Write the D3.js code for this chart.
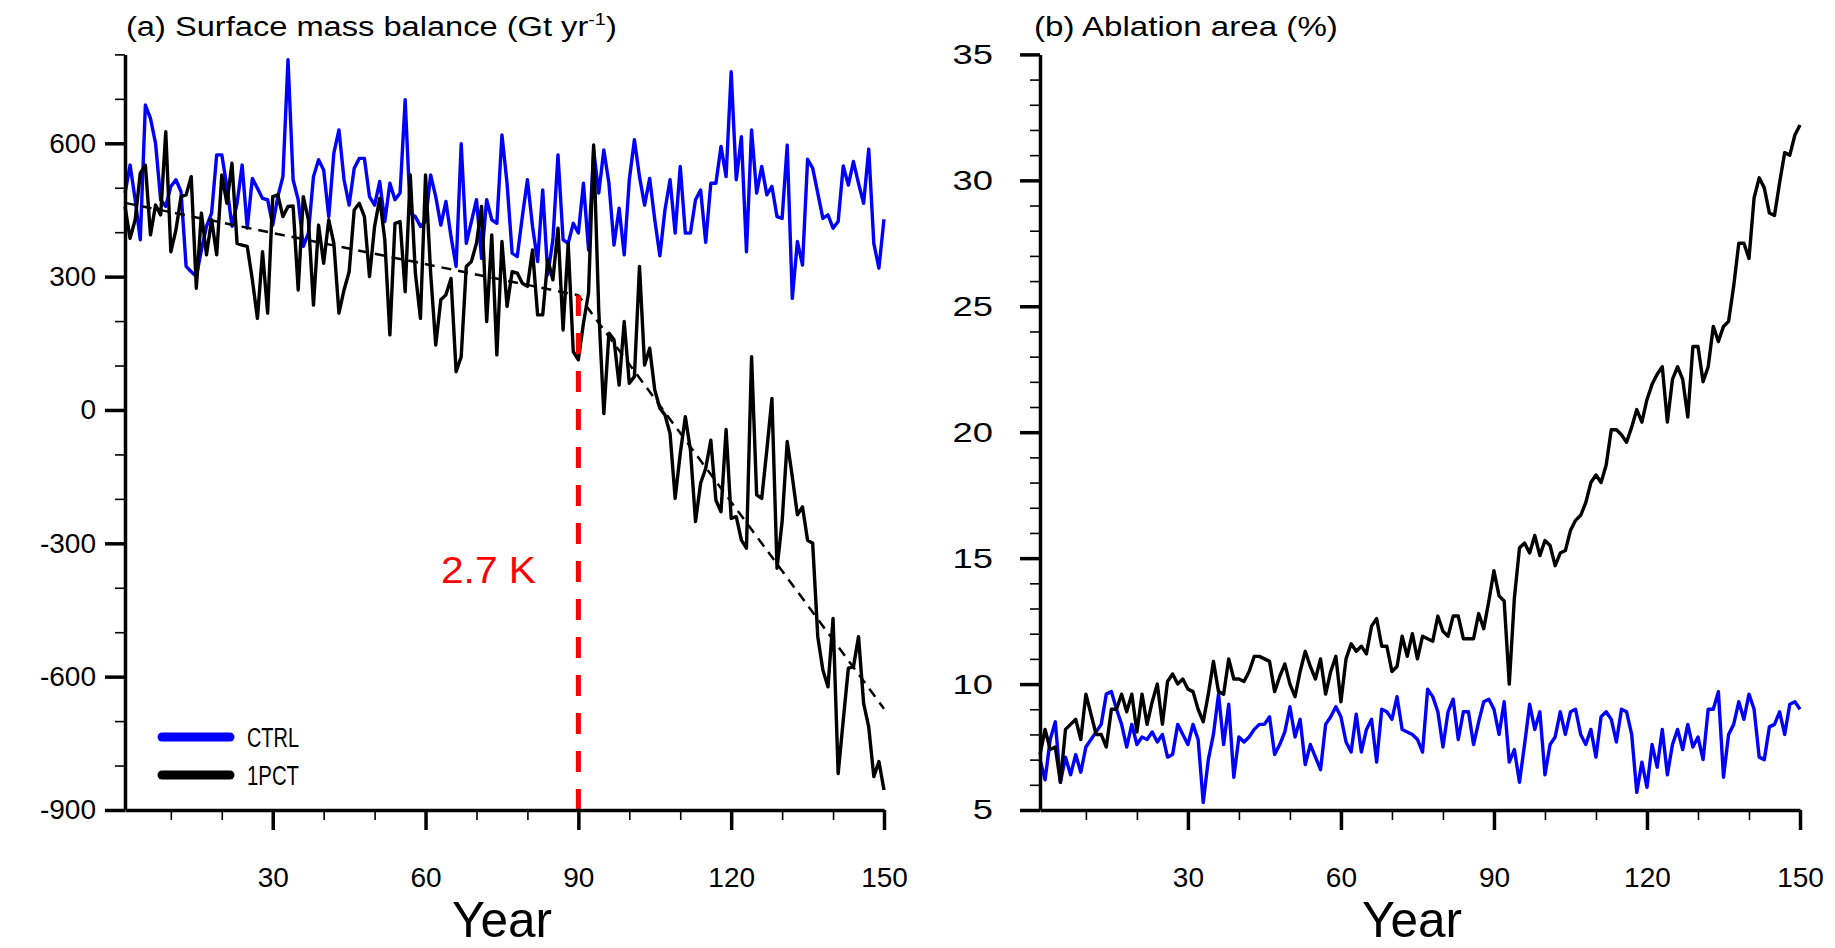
<!DOCTYPE html>
<html>
<head>
<meta charset="utf-8">
<script src="https://cdn.jsdelivr.net/npm/d3@7"></script>
<style>
body { margin: 0; background: #fff; }
svg text { font-family: "Liberation Sans", Arial, sans-serif; fill: #000; }
</style>
</head>
<body>
<div id="chart"></div>
<script>
var years = d3.range(1, 151);

// (a) surface mass balance, Gt/yr
var smbCtrl = [488, 551, 473, 383, 686, 656, 600, 473, 458, 503,
               518, 491, 323, 311, 300, 360, 413, 443, 574, 574,
               503, 413, 465, 551, 409, 521, 499, 476, 473, 416,
               480, 525, 788, 518, 473, 368, 398, 525, 563, 540,
               435, 578, 630, 518, 461, 544, 566, 566, 480, 461,
               514, 424, 510, 473, 488, 698, 443, 435, 413, 424,
               529, 480, 416, 469, 390, 323, 599, 375, 424, 473,
               341, 473, 428, 420, 619, 510, 353, 345, 435, 518,
               413, 334, 495, 304, 383, 574, 383, 375, 420, 398,
               510, 360, 585, 488, 585, 510, 371, 454, 349, 518,
               608, 525, 461, 521, 428, 347, 450, 518, 398, 548,
               398, 398, 473, 495, 377, 510, 510, 593, 525, 761,
               518, 615, 356, 630, 488, 548, 484, 503, 435, 431,
               596, 251, 379, 326, 564, 544, 488, 431, 439, 409,
               424, 549, 506, 559, 510, 465, 587, 375, 319, 429];
var smb1pct = [458, 386, 428, 533, 551, 394, 461, 439, 626, 356,
               405, 480, 484, 525, 274, 443, 349, 428, 349, 529,
               465, 555, 375, 371, 368, 293, 206, 356, 218, 480,
               484, 435, 458, 459, 270, 480, 428, 236, 416, 330,
               428, 375, 218, 270, 311, 450, 465, 435, 300, 413,
               476, 383, 169, 420, 424, 266, 529, 308, 206, 529,
               308, 146, 248, 259, 296, 86, 120, 323, 334, 375,
               458, 199, 394, 124, 379, 233, 311, 308, 285, 278,
               360, 214, 214, 338, 293, 409, 180, 375, 131, 113,
               195, 263, 596, 225, -8, 173, 158, 56, 199, 60,
               75, 323, 101, 139, 45, 4, -11, -53, -199, -98,
               -15, -90, -251, -165, -131, -68, -203, -229, -44, -244,
               -240, -293, -311, 120, -191, -199, -90, 26, -356, -251,
               -71, -150, -236, -218, -293, -300, -510, -585, -623, -469,
               -818, -698, -581, -578, -510, -660, -713, -825, -791, -855];
var trendYears = [1, 90, 150];
var smbTrend = [466, 258, -672];

// (b) ablation area, %
var ablCtrl = [7.0, 6.2, 7.8, 8.5, 6.1, 7.1, 6.4, 7.2, 6.5, 7.5,
               7.8, 8.1, 8.4, 9.6, 9.7, 9.0, 8.4, 7.5, 8.4, 7.6,
               7.9, 7.8, 8.1, 7.7, 8.0, 7.1, 7.2, 8.4, 8.0, 7.6,
               8.4, 7.8, 5.3, 7.0, 8.0, 9.6, 7.6, 9.2, 6.3, 7.9,
               7.7, 7.9, 8.2, 8.4, 8.4, 8.7, 7.2, 7.6, 8.1, 9.1,
               7.9, 8.6, 6.8, 7.6, 7.1, 6.6, 8.4, 8.7, 9.1, 8.7,
               7.7, 7.3, 8.8, 7.3, 8.2, 8.6, 6.9, 9.0, 8.9, 8.6,
               9.5, 8.2, 8.1, 8.0, 7.8, 7.3, 9.8, 9.5, 8.9, 7.5,
               8.9, 9.4, 7.8, 8.9, 8.9, 7.6, 8.5, 9.3, 9.4, 9.0,
               8.0, 9.3, 6.9, 7.4, 6.1, 7.6, 9.2, 8.2, 8.9, 6.4,
               7.6, 7.9, 8.9, 8.0, 8.9, 9.0, 8.0, 7.6, 8.2, 7.1,
               8.7, 8.9, 8.6, 7.7, 9.0, 8.9, 8.0, 5.7, 6.9, 5.9,
               7.6, 6.7, 8.2, 6.4, 7.6, 8.2, 7.4, 8.4, 7.5, 7.9,
               7.0, 9.0, 9.0, 9.7, 6.3, 8.0, 8.4, 9.3, 8.6, 9.6,
               9.0, 7.1, 7.0, 8.3, 8.4, 8.9, 8.0, 9.2, 9.3, 9.0];
var abl1pct = [7.2, 8.2, 7.4, 7.5, 6.1, 8.2, 8.4, 8.6, 7.8, 9.6,
               8.8, 8.0, 8.0, 7.5, 9.0, 9.0, 9.6, 8.9, 9.6, 8.1,
               9.6, 8.4, 9.3, 10.0, 8.4, 10.1, 10.4, 10.0, 10.2, 9.8,
               9.7, 9.0, 8.5, 9.6, 10.9, 9.7, 9.6, 11.0, 10.2, 10.2,
               10.1, 10.5, 11.1, 11.1, 11.0, 10.9, 9.7, 10.3, 10.8, 10.0,
               9.5, 10.5, 11.3, 10.7, 10.2, 11.0, 9.6, 10.5, 11.1, 9.3,
               11.0, 11.6, 11.3, 11.5, 11.2, 12.3, 12.6, 11.5, 11.5, 10.5,
               10.7, 11.9, 11.1, 12.0, 11.0, 11.9, 11.8, 11.7, 12.7, 12.1,
               11.9, 12.7, 12.7, 11.8, 11.8, 11.8, 12.8, 12.2, 13.3, 14.5,
               13.5, 13.3, 10.0, 13.4, 15.4, 15.6, 15.2, 15.9, 15.1, 15.7,
               15.5, 14.7, 15.2, 15.3, 16.1, 16.5, 16.7, 17.2, 18.0, 18.3,
               18.0, 18.7, 20.1, 20.1, 19.9, 19.6, 20.2, 20.9, 20.4, 21.3,
               21.9, 22.3, 22.6, 20.4, 22.1, 22.6, 22.1, 20.6, 23.4, 23.4,
               22.0, 22.6, 24.2, 23.6, 24.2, 24.4, 25.8, 27.5, 27.5, 26.9,
               29.3, 30.1, 29.7, 28.7, 28.6, 29.9, 31.1, 31.0, 31.8, 32.2];

var smbTicks = [-900, -600, -300, 0, 300, 600];
var ablTicks = [5, 10, 15, 20, 25, 30, 35];
var yearTicks = [30, 60, 90, 120, 150];
var legendNames = ['CTRL', '1PCT'];
var seriesColors = ['#0000ff', '#000000'];
var warmingYear = 90;
var warmingLabel = '2.7 K';

var svg = d3.select('#chart').append('svg')
            .attr('width', 1835)
            .attr('height', 948);

function pairs(arr) {
    return years.map(function (yr, i) { return {year: yr, value: arr[i]}; });
}

function fitText(sel, x, y, width) {
    var w = sel.node().getBBox().width;
    sel.attr('transform', 'translate(' + x + ',' + y + ') scale(' + (width / w) + ',1)');
}

function drawAxes(x, y, majorY, minorY, labelPad, labelStretch) {
    var minorX = d3.range(10, 150, 10).filter(function (d) { return d % 30 != 0; });

    var gx = svg.append('g').attr('transform', 'translate(0,810)')
                .call(d3.axisBottom(x).tickValues(yearTicks).tickSize(20)
                        .tickSizeOuter(0).tickPadding(37));
    gx.select('.domain').attr('stroke-width', 3.5);
    gx.selectAll('.tick line').attr('stroke-width', 3.5);
    gx.selectAll('.tick text').attr('font-size', 28);

    svg.append('g').attr('transform', 'translate(0,810)')
       .call(d3.axisBottom(x).tickValues(minorX).tickSize(10).tickFormat(''))
       .call(function (g) { g.select('.domain').remove(); })
       .selectAll('.tick line').attr('stroke-width', 1.6);

    var left = x.range()[0];
    var tx = -(20 + labelPad);
    var gy = svg.append('g').attr('transform', 'translate(' + left + ',0)')
                .call(d3.axisLeft(y).tickValues(majorY).tickSize(20)
                        .tickSizeOuter(0).tickPadding(labelPad)
                        .tickFormat(function (d) { return String(d); }));
    gy.select('.domain').attr('stroke-width', 3.5);
    gy.selectAll('.tick line').attr('stroke-width', 3.5);
    gy.selectAll('.tick text')
      .attr('font-size', 28)
      .attr('transform', 'translate(' + tx + ',0) scale(' + labelStretch + ',1) translate(' + (-tx) + ',0)');

    svg.append('g').attr('transform', 'translate(' + left + ',0)')
       .call(d3.axisLeft(y).tickValues(minorY).tickSize(10).tickFormat(''))
       .call(function (g) { g.select('.domain').remove(); })
       .selectAll('.tick line').attr('stroke-width', 1.6);
}

function drawSeries(x, y, arr, color) {
    var line = d3.line()
                 .x(function (d) { return x(d.year); })
                 .y(function (d) { return y(d.value); });
    svg.append('path')
       .datum(pairs(arr))
       .attr('d', line)
       .attr('fill', 'none')
       .attr('stroke', color)
       .attr('stroke-width', 3.4)
       .attr('stroke-linejoin', 'round');
}

// panel (a)
var xa = d3.scaleLinear().domain([1, 150]).range([125, 884]);
var ya = d3.scaleLinear().domain([-900, 800]).range([810, 54.4]);
var smbMinor = d3.range(-800, 900, 100).filter(function (d) { return d % 300 != 0; });

drawSeries(xa, ya, smbCtrl, seriesColors[0]);
drawSeries(xa, ya, smb1pct, seriesColors[1]);

var trendLine = d3.line()
                  .x(function (d, i) { return xa(trendYears[i]); })
                  .y(function (d) { return ya(d); });
svg.append('path')
   .datum(smbTrend)
   .attr('d', trendLine)
   .attr('fill', 'none')
   .attr('stroke', '#000')
   .attr('stroke-width', 2.5)
   .attr('stroke-dasharray', '10,7');

svg.append('line')
   .attr('x1', xa(warmingYear)).attr('x2', xa(warmingYear))
   .attr('y1', ya(-900)).attr('y2', ya(smbTrend[1]))
   .attr('stroke', '#ff0000')
   .attr('stroke-width', 5)
   .attr('stroke-dasharray', '21,17');

var warmText = svg.append('text')
                  .attr('font-family', '"Open Sans", sans-serif')
                  .attr('font-size', 36)
                  .style('fill', '#ff0000')
                  .text(warmingLabel);
fitText(warmText, 441, 583, 95);

drawAxes(xa, ya, smbTicks, smbMinor, 9, 1);

var titleA = svg.append('text').attr('font-size', 28);
titleA.append('tspan').text('(a) Surface mass balance (Gt yr');
titleA.append('tspan').attr('font-size', 17).attr('dy', -11).text('-1');
titleA.append('tspan').attr('dy', 11).text(')');
fitText(titleA, 126, 36, 491);

// legend
legendNames.forEach(function (name, i) {
    var ly = 737 + i * 38;
    svg.append('line')
       .attr('x1', 162).attr('x2', 230)
       .attr('y1', ly).attr('y2', ly)
       .attr('stroke', seriesColors[i])
       .attr('stroke-width', 9)
       .attr('stroke-linecap', 'round');
    var t = svg.append('text')
               .attr('font-size', 28)
               .text(name);
    fitText(t, 247, ly + 10, 52);
});

// panel (b)
var xb = d3.scaleLinear().domain([1, 150]).range([1040, 1800]);
var yb = d3.scaleLinear().domain([5, 35]).range([810, 54.4]);
var ablMinor = d3.range(6, 35, 1).filter(function (d) { return d % 5 != 0; });

drawSeries(xb, yb, ablCtrl, seriesColors[0]);
drawSeries(xb, yb, abl1pct, seriesColors[1]);
drawAxes(xb, yb, ablTicks, ablMinor, 27, 1.3);

var titleB = svg.append('text').attr('font-size', 28).text('(b) Ablation area (%)');
fitText(titleB, 1034, 36, 304);

var yearA = svg.append('text').attr('font-size', 50).text('Year');
fitText(yearA, 452, 937, 100);
var yearB = svg.append('text').attr('font-size', 50).text('Year');
fitText(yearB, 1362, 937, 100);
</script>
</body>
</html>
